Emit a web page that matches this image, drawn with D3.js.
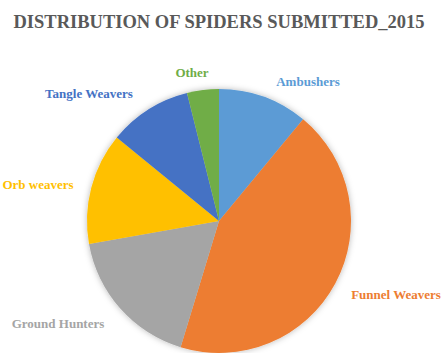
<!DOCTYPE html>
<html>
<head>
<meta charset="utf-8">
<script src="https://cdn.jsdelivr.net/npm/d3@7"></script>
<style>
  html, body { margin: 0; padding: 0; background: #fff; }
  svg { display: block; }
</style>
</head>
<body>
<svg id="chart" width="445" height="353"></svg>
<script>
// Spider groups submitted in 2015 (share of submissions, %)
const categories = ["Ambushers", "Funnel Weavers", "Ground Hunters", "Orb weavers", "Tangle Weavers", "Other"];
const values = [11.0, 43.7, 17.5, 13.7, 10.2, 3.9];
const colors = ["#5B9BD5", "#ED7D31", "#A5A5A5", "#FFC000", "#4472C4", "#70AD47"];
const title = "DISTRIBUTION OF SPIDERS SUBMITTED_2015";

// Label anchor points (centre of each label, baseline)
const labelPos = [
  [308, 86], [396, 299], [58, 328], [38, 189], [89, 98], [192, 77]
];

const width = 445, height = 353;
const cx = 219, cy = 221, radius = 132;
const FONT = "Liberation Serif";

const svg = d3.select("#chart");

const defs = svg.append("defs");
const shadow = defs.append("filter")
  .attr("id", "pieShadow")
  .attr("x", "-20%").attr("y", "-20%")
  .attr("width", "140%").attr("height", "140%");
shadow.append("feDropShadow")
  .attr("dx", 0).attr("dy", 0)
  .attr("stdDeviation", 3)
  .attr("flood-color", "#000")
  .attr("flood-opacity", 0.28);

svg.append("text")
  .attr("x", cx)
  .attr("y", 28)
  .attr("text-anchor", "middle")
  .style("font-family", FONT)
  .style("font-weight", "bold")
  .style("font-size", "18.5px")
  .attr("fill", "#595959")
  .text(title);

const data = categories.map((c, i) => ({ name: c, value: values[i], color: colors[i], pos: labelPos[i] }));

const pie = d3.pie()
  .sort(null)
  .value(d => d.value);

const arc = d3.arc()
  .innerRadius(0)
  .outerRadius(radius);

const g = svg.append("g")
  .attr("transform", `translate(${cx},${cy})`);

g.append("g")
  .attr("filter", "url(#pieShadow)")
  .selectAll("path")
  .data(pie(data))
  .join("path")
  .attr("d", arc)
  .attr("fill", d => d.data.color);

data.forEach(d => {
  svg.append("text")
    .attr("x", d.pos[0])
    .attr("y", d.pos[1])
    .attr("text-anchor", "middle")
    .style("font-family", FONT)
    .style("font-weight", "bold")
    .style("font-size", "13px")
    .attr("fill", d.color)
    .text(d.name);
});
</script>
</body>
</html>
